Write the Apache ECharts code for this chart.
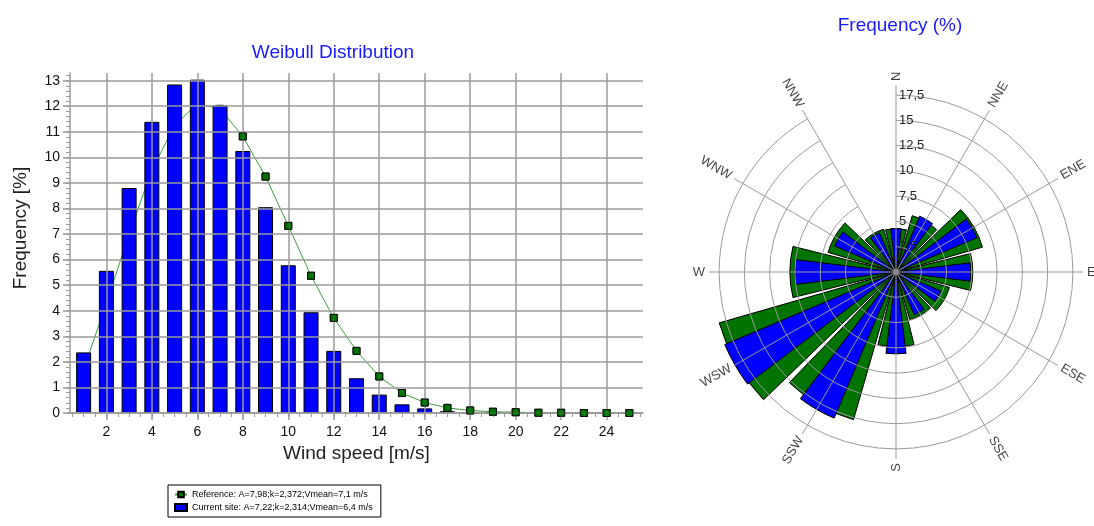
<!DOCTYPE html>
<html><head><meta charset="utf-8">
<script src="https://cdn.jsdelivr.net/npm/echarts@6/dist/echarts.min.js"></script>
<style>html,body{margin:0;padding:0;background:#fff}#c{width:1094px;height:526px}</style>
</head><body><div id="c"></div>
<script>
// ---- Weibull histogram data ----
const speeds = [1,2,3,4,5,6,7,8,9,10,11,12,13,14,15,16,17,18,19,20,21,22,23,24,25];
const currentFreq = [2.37,5.56,8.8,11.39,12.85,13.04,12.03,10.25,8.05,5.78,3.94,2.43,1.36,0.72,0.34,0.18,0.07,0.03,0.01,0.01,0,0,0,0,0];
const referenceFreq = [1.7,4.3,7.0,9.5,11.25,12.1,11.9,10.82,9.25,7.32,5.37,3.72,2.43,1.43,0.78,0.41,0.2,0.1,0.05,0.03,0.01,0.01,0,0,0];
const xTickLabels = [2,4,6,8,10,12,14,16,18,20,22,24];
const xMinorTicks = [0.5,1,1.5,2,2.5,3,3.5,4,4.5,5,5.5,6,6.5,7,7.5,8,8.5,9,9.5,10,10.5,11,11.5,12,12.5,13,13.5,14,14.5,15,15.5,16,16.5,17,17.5,18,18.5,19,19.5,20,20.5,21,21.5,22,22.5,23,23.5,24,24.5,25,25.5];
const yTickLabels = [0,1,2,3,4,5,6,7,8,9,10,11,12,13];
const yMinorTicks = [0,0.2,0.4,0.6,0.8,1,1.2,1.4,1.6,1.8,2,2.2,2.4,2.6,2.8,3,3.2,3.4,3.6,3.8,4,4.2,4.4,4.6,4.8,5,5.2,5.4,5.6,5.8,6,6.2,6.4,6.6,6.8,7,7.2,7.4,7.6,7.8,8,8.2,8.4,8.6,8.8,9,9.2,9.4,9.6,9.8,10,10.2,10.4,10.6,10.8,11,11.2,11.4,11.6,11.8,12,12.2,12.4,12.6,12.8,13,13.2];
// ---- Wind rose data ----
const directions = ['N','NNE','ENE','E','ESE','SSE','S','SSW','WSW','W','WNW','NNW'];
const roseReference = [4.3,5.8,8.9,7.6,5.5,4.9,7.4,15.2,18.2,10.5,7.0,4.4];
const roseCurrent = [4.3,6.0,8.7,7.4,4.8,4.6,8.1,15.7,18.4,10.0,6.6,4.2];
const roseRings = [2.5,5,7.5,10,12.5,15,17.5];

const refName = 'Reference: A=7,98;k=2,372;Vmean=7,1 m/s';
const curName = 'Current site: A=7,22;k=2,314;Vmean=6,4 m/s';
const FONT = 'Liberation Sans, Arial, sans-serif';
const GRID = '#9a9a9a';
const GREEN = '#007300';
const BLUE = '#0000ff';

const chart = echarts.init(document.getElementById('c'), null, {renderer: 'canvas'});

const dirLabels = directions.map((d, i) => {
  const ang = i * 30;
  let rot, align;
  if (ang < 180) { rot = 90 - ang; align = 'left'; }
  else { rot = 270 - ang; align = 'right'; }
  if (ang === 0) { rot = 90; align = 'left'; }
  return { value: [18.9, i], name: d, label: { rotate: rot, align: align } };
});

// markers of the reference curve that are not hidden behind the bars
const visibleMarkers = speeds.map((s, i) => [s, referenceFreq[i]])
  .filter((p, i) => referenceFreq[i] >= currentFreq[i]);

chart.setOption({
  animation: false,
  textStyle: { fontFamily: FONT },
  title: [
    { text: 'Weibull Distribution', left: 328, top: 38, textAlign: 'center',
      textStyle: { color: '#1a1aff', fontSize: 19, fontWeight: 'normal', fontFamily: FONT } },
    { text: 'Frequency (%)', left: 895, top: 11, textAlign: 'center',
      textStyle: { color: '#1a1aff', fontSize: 19, fontWeight: 'normal', fontFamily: FONT } }
  ],
  legend: {
    data: [{ name: refName }, { name: curName, icon: 'rect' }],
    orient: 'vertical', left: 168, top: 485,
    itemWidth: 12, itemHeight: 7, itemGap: 4,
    padding: [5, 8, 5, 6],
    borderColor: '#000', borderWidth: 1,
    textStyle: { fontSize: 9, color: '#000', fontFamily: FONT }
  },
  grid: { left: 70, right: 451, top: 73, bottom: 113 },
  xAxis: [
    { type: 'value', min: 0.4, max: 25.6, position: 'bottom', z: 5,
      name: 'Wind speed [m/s]', nameLocation: 'middle', nameGap: 29,
      nameTextStyle: { fontSize: 19, color: '#222', fontFamily: FONT },
      axisLine: { lineStyle: { color: GRID, width: 1.5 } },
      axisTick: { customValues: xTickLabels, length: 7, lineStyle: { color: GRID, width: 1.5 } },
      axisLabel: { customValues: xTickLabels, margin: 12, fontSize: 14, color: '#111' },
      splitLine: { show: true, lineStyle: { color: GRID, width: 1.5 } } },
    { type: 'value', min: 0.4, max: 25.6, position: 'bottom', z: 5,
      axisLine: { show: false },
      axisTick: { customValues: xMinorTicks, length: 4, lineStyle: { color: GRID, width: 1 } },
      axisLabel: { show: false }, splitLine: { show: false } }
  ],
  yAxis: [
    { type: 'value', min: 0, max: 13.3, position: 'left', z: 5,
      name: 'Frequency [%]', nameLocation: 'middle', nameGap: 40,
      nameTextStyle: { fontSize: 19, color: '#222', fontFamily: FONT, padding: [0, 0, 0, 30] },
      axisLine: { show: true, lineStyle: { color: GRID, width: 1.5 } },
      axisTick: { show: true, customValues: yTickLabels, length: 7, lineStyle: { color: GRID, width: 1.5 } },
      axisLabel: { customValues: yTickLabels, margin: 10, fontSize: 14, color: '#111' },
      splitLine: { show: true, lineStyle: { color: GRID, width: 1.5 } } },
    { type: 'value', min: 0, max: 13.3, position: 'left', z: 5,
      axisLine: { show: false },
      axisTick: { show: true, customValues: yMinorTicks, length: 4, lineStyle: { color: GRID, width: 1 } },
      axisLabel: { show: false }, splitLine: { show: false } }
  ],
  polar: [
    { center: [896, 272], radius: 187 },
    { center: [896, 272], radius: 187 }
  ],
  angleAxis: [
    { polarIndex: 0, type: 'category', data: directions, boundaryGap: false, startAngle: 90, clockwise: true,
      axisLine: { show: false }, axisTick: { show: false }, axisLabel: { show: false }, splitLine: { show: false } },
    { polarIndex: 1, type: 'category', data: directions, boundaryGap: false, startAngle: 90, clockwise: true, z: 10,
      axisLine: { show: false }, axisTick: { show: false }, axisLabel: { show: false },
      splitLine: { show: true, lineStyle: { color: GRID, width: 1 } } }
  ],
  radiusAxis: [
    { polarIndex: 0, min: 0, max: 18.5, axisLine: { show: false }, axisTick: { show: false },
      axisLabel: { show: false }, splitLine: { show: false } },
    { polarIndex: 1, min: 0, max: 18.5, z: 10, axisLine: { show: false },
      axisTick: { show: false, customValues: roseRings },
      axisLabel: { customValues: roseRings, margin: -3, align: 'left', fontSize: 13, color: '#222',
        formatter: v => String(v).replace('.', ',') },
      splitLine: { show: true, lineStyle: { color: GRID, width: 1 } } }
  ],
  series: [
    { name: refName, type: 'line', xAxisIndex: 0, yAxisIndex: 0, z: 1,
      data: speeds.map((s, i) => [s, referenceFreq[i]]),
      symbol: 'rect', symbolSize: 7, showAllSymbol: true,
      itemStyle: { color: GREEN, borderColor: '#000', borderWidth: 1 },
      lineStyle: { color: '#3aa03a', width: 1 } },
    { name: curName, type: 'bar', xAxisIndex: 0, yAxisIndex: 0, z: 2, barWidth: 15,
      data: speeds.map((s, i) => [s, currentFreq[i]]),
      itemStyle: { color: BLUE, borderColor: '#000', borderWidth: 1 } },
    { name: refName, type: 'scatter', xAxisIndex: 0, yAxisIndex: 0, z: 6,
      data: visibleMarkers, symbol: 'rect', symbolSize: 7, silent: true,
      itemStyle: { color: GREEN, borderColor: '#000', borderWidth: 1 } },
    { name: refName, type: 'bar', coordinateSystem: 'polar', polarIndex: 0, barWidth: '93%', clip: false,
      data: roseReference,
      itemStyle: { color: GREEN, borderColor: '#000', borderWidth: 1 } },
    { name: curName, type: 'bar', coordinateSystem: 'polar', polarIndex: 1, barWidth: '47%', clip: false,
      data: roseCurrent,
      itemStyle: { color: BLUE, borderColor: '#000', borderWidth: 1 } },
    { name: 'center', type: 'scatter', coordinateSystem: 'polar', polarIndex: 1, z: 11, silent: true,
      data: [[0, 0]], symbolSize: 7, itemStyle: { color: '#8a8a8a' } },
    { name: 'dirs', type: 'scatter', coordinateSystem: 'polar', polarIndex: 1, symbolSize: 0, clip: false,
      silent: true, z: 10, data: dirLabels,
      label: { show: true, position: 'inside', formatter: p => p.name, color: '#111', fontSize: 13,
        verticalAlign: 'middle', fontFamily: FONT } }
  ]
});
</script></body></html>
